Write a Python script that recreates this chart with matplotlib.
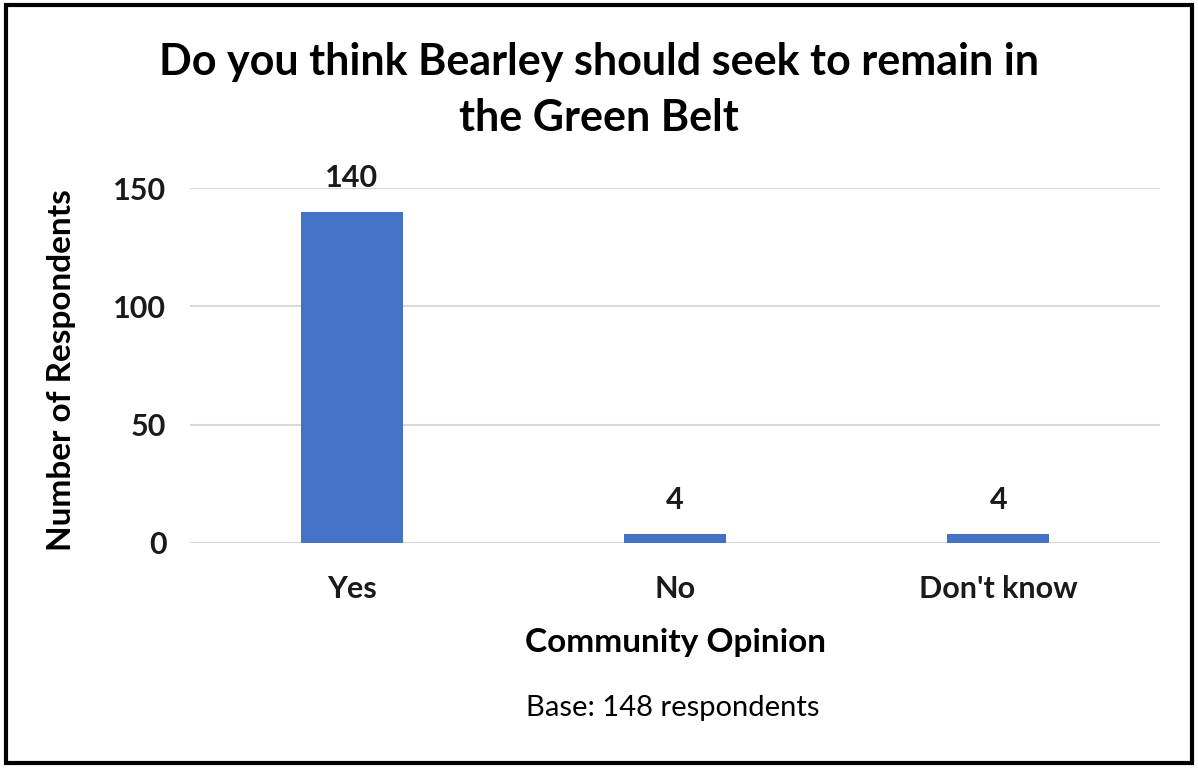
import matplotlib.pyplot as plt
from matplotlib.patches import Rectangle

categories = ["Yes", "No", "Don't know"]
counts = [140, 4, 4]
yticks = [0, 50, 100, 150]

plt.rcParams['font.family'] = ['Lato', 'DejaVu Sans']

fig = plt.figure(figsize=(11.98, 7.69), dpi=100)
ax = fig.add_axes([0.1586, 0.2939, 0.8097, 0.4616])

x = range(len(categories))
bars = ax.bar(x, counts, width=0.315, color="#4472c4", zorder=3)
for b, v in zip(bars, counts):
    ax.annotate(str(v), (b.get_x() + b.get_width() / 2, v), xytext=(0, 24),
                textcoords="offset points", ha="center", va="center",
                fontsize=22, fontweight="bold", color="#1a1a1a")

ax.set_xlim(-0.5, 2.5)
ax.set_ylim(0, 150)
ax.set_yticks(yticks)
ax.set_xticks(list(x))
ax.set_xticklabels(categories)
ax.yaxis.grid(True, color="#d9d9d9", linewidth=1.5, zorder=0)
ax.tick_params(length=0, labelsize=22, labelcolor="#1a1a1a")
ax.tick_params(axis="y", pad=17)
ax.tick_params(axis="x", pad=23)
for lbl in ax.get_xticklabels() + ax.get_yticklabels():
    lbl.set_fontweight("bold")
for s in ax.spines.values():
    s.set_visible(False)

ax.set_ylabel("Number of Respondents", fontsize=24, fontweight="bold",
              ha="center", va="center")
ax.yaxis.set_label_coords(-0.132, 0.487)
ax.set_xlabel("Community Opinion", fontsize=24, fontweight="bold",
              ha="center", va="center")
ax.xaxis.set_label_coords(0.5, -0.279)

fig.text(0.5, 0.883, "Do you think Bearley should seek to remain in\nthe Green Belt",
         ha="center", va="center", fontsize=31, fontweight="bold", linespacing=1.5)
fig.text(0.5618, 0.0793, "Base: 148 respondents", ha="center", va="center", fontsize=21)

# outer frame
fig.patches.append(Rectangle((0.005, 0.008), 0.99, 0.985, transform=fig.transFigure,
                             fill=False, edgecolor="black", linewidth=3))

fig.savefig("out.png", dpi=100)
